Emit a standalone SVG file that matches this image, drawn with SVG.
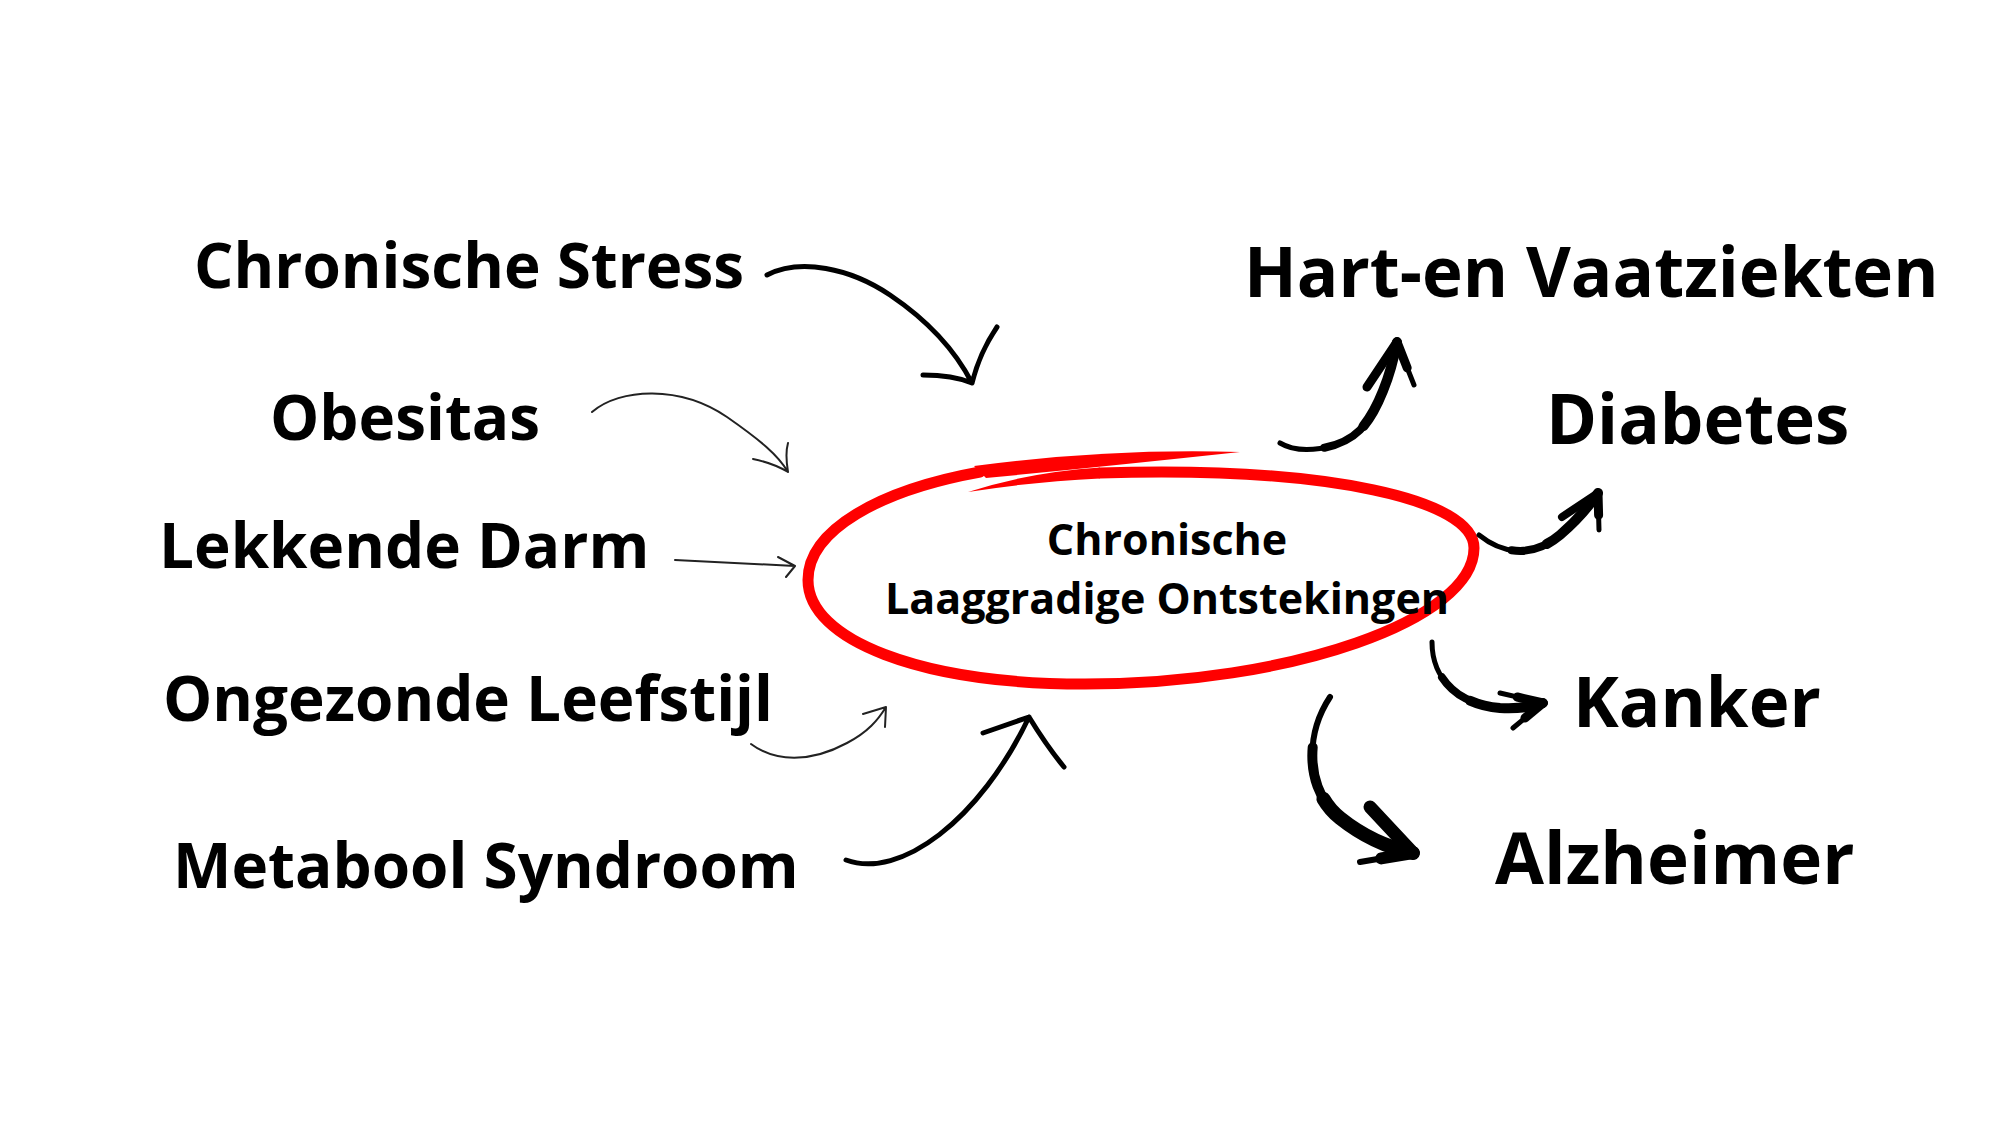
<svg xmlns="http://www.w3.org/2000/svg" width="2000" height="1125" viewBox="0 0 2000 1125">
<style>
.lbl{font-family:"Open Sans","Liberation Sans",sans-serif;font-weight:700;fill:#000}
.l{font-size:62px}
.r{font-size:69px}
.c{font-size:43px;text-anchor:middle}
.thin{fill:none;stroke:#222;stroke-width:2;stroke-linecap:round;stroke-linejoin:round}
.med{fill:none;stroke:#000;stroke-width:5;stroke-linecap:round;stroke-linejoin:round}
.brush use{fill:none;stroke:#000;stroke-linecap:round;stroke-linejoin:round}
.d25{stroke-dasharray:75 200;stroke-dashoffset:-25}
.d50{stroke-dasharray:50 200;stroke-dashoffset:-50}
.h60{stroke-dasharray:60 200}
</style>
<defs>
<path id="s-hart" pathLength="100" d="M1280,443 C1300,455 1340,450 1360,430 C1375,415 1390,380 1397,342"/>
<path id="b-hart1" pathLength="100" d="M1397,342 L1367,387"/>
<path id="b-hart2" pathLength="100" d="M1397,342 L1414,385"/>
<path id="s-diab" pathLength="100" d="M1479,535 C1500,552 1530,560 1560,535 C1575,522 1590,505 1598,493"/>
<path id="b-diab1" pathLength="100" d="M1598,493 L1562,517"/>
<path id="b-diab2" pathLength="100" d="M1598,493 L1599,530"/>
<path id="s-kank" pathLength="100" d="M1432,642 C1432,680 1460,705 1500,708 C1520,709 1535,706 1543,703"/>
<path id="b-kank1" pathLength="100" d="M1543,703 L1500,693"/>
<path id="b-kank2" pathLength="100" d="M1543,703 L1513,728"/>
<path id="s-alz" pathLength="100" d="M1330,697 C1305,735 1305,790 1340,818 C1365,838 1390,848 1413,853"/>
<path id="b-alz1" pathLength="100" d="M1413,853 L1370,807"/>
<path id="b-alz2" pathLength="100" d="M1413,853 L1360,862"/>
</defs>
<rect width="2000" height="1125" fill="#fff"/>
<g id="center">
<path d="M1100,473 C1330,466 1474,500 1474,548 C1474,620 1290,684 1085,684 C920,684 808,640 808,580 C808,530 880,490 980,472" fill="none" stroke="#f00" stroke-width="11" stroke-linecap="round"/>
<path d="M974,466 Q1110,448 1240,452 Q1110,466 986,478 Z" fill="#f00"/>
<path d="M968,492 Q1030,472 1100,467.5 L1100,478.5 Q1030,482 968,492 Z" fill="#f00"/>
<text class="lbl c" x="1167" y="555">Chronische</text>
<text class="lbl c" x="1167" y="614">Laaggradige Ontstekingen</text>
</g>
<g id="stress"><text class="lbl l" x="194" y="288">Chronische Stress</text></g>
<g id="obesitas"><text class="lbl l" x="270" y="440">Obesitas</text></g>
<g id="darm"><text class="lbl l" x="159" y="568">Lekkende Darm</text></g>
<g id="leefstijl"><text class="lbl l" x="163" y="721">Ongezonde Leefstijl</text></g>
<g id="metabool"><text class="lbl l" x="173" y="888">Metabool Syndroom</text></g>
<g id="hart"><text class="lbl r" x="1244" y="297">Hart-en Vaatziekten</text></g>
<g id="diabetes"><text class="lbl r" x="1546" y="444">Diabetes</text></g>
<g id="kanker"><text class="lbl r" x="1573" y="727">Kanker</text></g>
<g id="alzheimer"><text class="lbl r" x="1495" y="884" style="font-size:71px">Alzheimer</text></g>
<g id="connectors">
<path class="med" d="M767,275 C800,258 850,268 890,295 C930,322 955,350 972,383 M923,375 C945,375 960,378 972,383 C978,360 985,345 997,327"/>
<path class="thin" d="M592,412 C620,388 680,385 727,417 C760,440 778,455 788,472 M753,459 C768,462 778,466 788,472 C786,460 786,450 788,443"/>
<path class="thin" d="M675,560 L795,566 M778,557 L795,566 L786,577"/>
<path class="thin" d="M751,744 C775,762 810,763 847,743 C868,732 878,720 886,707 M863,714 L886,707 L885,727"/>
<path class="med" d="M846,860 C900,880 980,820 1029,717 M983,733 L1029,717 C1040,735 1050,750 1064,767"/>
<g class="brush">
<use href="#s-hart" style="stroke-width:5"/>
<use href="#s-hart" class="d25" style="stroke-width:8"/>
<use href="#s-hart" class="d50" style="stroke-width:10"/>
<use href="#b-hart1" style="stroke-width:9"/>
<use href="#b-hart2" style="stroke-width:5"/>
<use href="#b-hart2" class="h60" style="stroke-width:9"/>
<use href="#s-diab" style="stroke-width:5"/>
<use href="#s-diab" class="d25" style="stroke-width:8"/>
<use href="#s-diab" class="d50" style="stroke-width:10"/>
<use href="#b-diab1" style="stroke-width:8"/>
<use href="#b-diab2" style="stroke-width:5"/>
<use href="#b-diab2" class="h60" style="stroke-width:9"/>
<use href="#s-kank" style="stroke-width:5"/>
<use href="#s-kank" class="d25" style="stroke-width:8"/>
<use href="#s-kank" class="d50" style="stroke-width:10"/>
<use href="#b-kank1" style="stroke-width:5"/>
<use href="#b-kank1" class="h60" style="stroke-width:9"/>
<use href="#b-kank2" style="stroke-width:5"/>
<use href="#b-kank2" class="h60" style="stroke-width:9"/>
<use href="#s-alz" style="stroke-width:6"/>
<use href="#s-alz" class="d25" style="stroke-width:10"/>
<use href="#s-alz" class="d50" style="stroke-width:14"/>
<use href="#b-alz1" style="stroke-width:13"/>
<use href="#b-alz2" style="stroke-width:6"/>
<use href="#b-alz2" class="h60" style="stroke-width:12"/>
</g>
</g>
</svg>
